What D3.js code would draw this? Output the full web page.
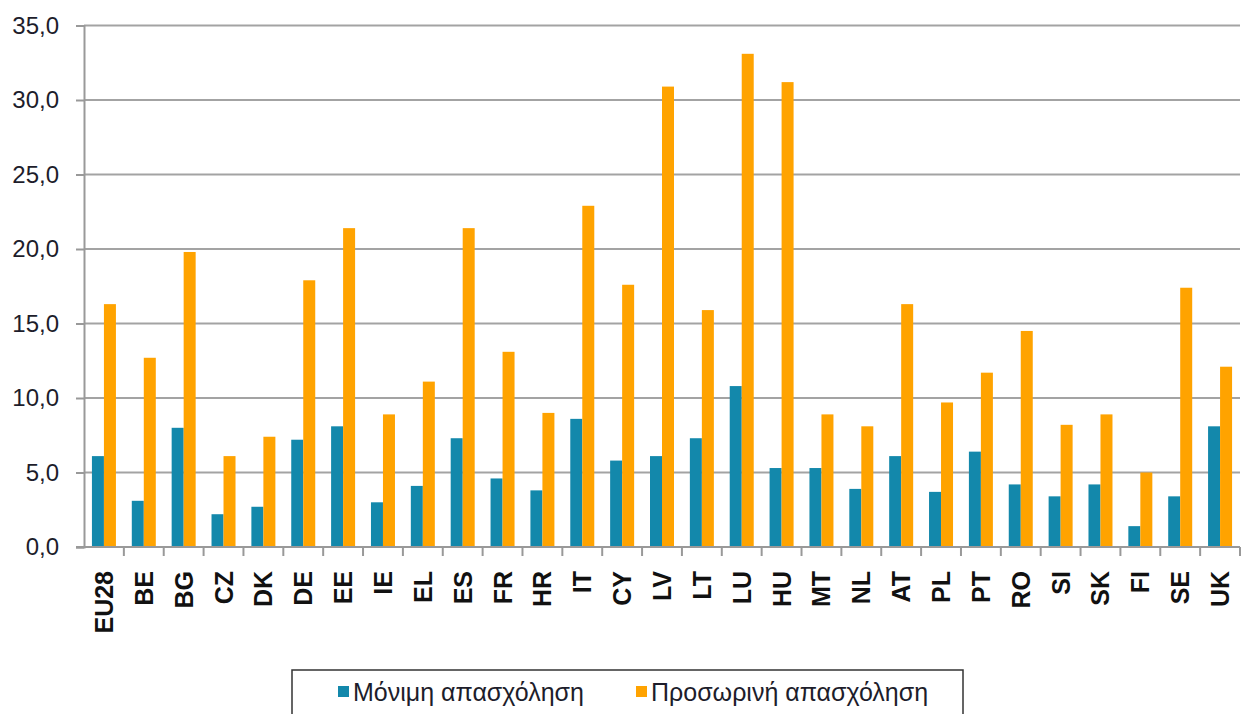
<!DOCTYPE html>
<html>
<head>
<meta charset="utf-8">
<script src="https://cdn.jsdelivr.net/npm/d3@7"></script>
<style>
  body { margin: 0; background: #fff; }
  svg { display: block; font-family: "Liberation Sans", Arial, sans-serif; }
</style>
</head>
<body>
<svg width="1244" height="714"></svg>
<script>
// Countries (x axis)
var countries = ['EU28','BE','BG','CZ','DK','DE','EE','IE','EL','ES','FR','HR','IT','CY','LV',
                 'LT','LU','HU','MT','NL','AT','PL','PT','RO','SI','SK','FI','SE','UK'];
// Series
var seriesNames = ['Μόνιμη απασχόληση', 'Προσωρινή απασχόληση'];
var permanent = [6.1, 3.1, 8.0, 2.2, 2.7, 7.2, 8.1, 3.0, 4.1, 7.3, 4.6, 3.8, 8.6, 5.8, 6.1,
                 7.3, 10.8, 5.3, 5.3, 3.9, 6.1, 3.7, 6.4, 4.2, 3.4, 4.2, 1.4, 3.4, 8.1];
var temporary = [16.3, 12.7, 19.8, 6.1, 7.4, 17.9, 21.4, 8.9, 11.1, 21.4, 13.1, 9.0, 22.9, 17.6, 30.9,
                 15.9, 33.1, 31.2, 8.9, 8.1, 16.3, 9.7, 11.7, 14.5, 8.2, 8.9, 5.0, 17.4, 12.1];
// Y ticks
var yTicks = [0, 5, 10, 15, 20, 25, 30, 35];
var colors = ['#1388AB', '#FFA300'];

var svg = d3.select('svg');
var plotL = 84, plotR = 1240, plotT = 25.5, plotB = 547;

var x = d3.scaleBand().domain(countries).range([plotL, plotR]).padding(0);
var y = d3.scaleLinear().domain([0, 35]).range([plotB, plotT]);
var bw = x.bandwidth();
var x1 = d3.scaleBand().domain([0, 1]).range([bw / 2 - 12, bw / 2 + 12]).padding(0);

var fmt = function(d) { return d3.format('.1f')(d).replace('.', ','); };

// gridlines
svg.append('g')
    .selectAll('line')
    .data(yTicks.filter(function(d) { return d > 0; }))
    .enter()
    .append('line')
    .attr('x1', plotL).attr('x2', plotR)
    .attr('y1', y).attr('y2', y)
    .style('stroke', '#a3a3a3')
    .style('stroke-width', 2);

// bars
var groups = svg.append('g')
    .selectAll('g')
    .data(countries)
    .enter()
    .append('g')
    .attr('transform', function(d) { return 'translate(' + x(d) + ',0)'; });

groups.selectAll('rect')
    .data(function(d, i) { return [permanent[i], temporary[i]]; })
    .enter()
    .append('rect')
    .attr('x', function(d, j) { return x1(j); })
    .attr('width', x1.bandwidth())
    .attr('y', function(d) { return y(d); })
    .attr('height', function(d) { return plotB - y(d); })
    .style('fill', function(d, j) { return colors[j]; });

// y axis
var yAxis = svg.append('g')
    .attr('transform', 'translate(' + plotL + ',0)')
    .call(d3.axisLeft(y).tickValues(yTicks).tickFormat(fmt).tickSize(8).tickPadding(17));
yAxis.select('.domain').style('stroke', '#999').style('stroke-width', 2);
yAxis.selectAll('.tick line').style('stroke', '#999').style('stroke-width', 2);
yAxis.selectAll('.tick text')
    .style('font-size', '24px')
    .style('fill', '#1d1d2b');

// x axis
var xAxis = svg.append('g')
    .attr('transform', 'translate(0,' + plotB + ')')
    .call(d3.axisBottom(x).tickSize(0).tickFormat(''));
xAxis.select('.domain').attr('d', 'M' + (plotL - 8) + ',0H' + plotR)
    .style('stroke', '#999').style('stroke-width', 2);

// x ticks at band boundaries
svg.append('g')
    .selectAll('line')
    .data(countries)
    .enter()
    .append('line')
    .attr('x1', function(d) { return x(d) + bw; })
    .attr('x2', function(d) { return x(d) + bw; })
    .attr('y1', plotB)
    .attr('y2', plotB + 9)
    .style('stroke', '#999')
    .style('stroke-width', 2);

// category labels
svg.append('g')
    .selectAll('text')
    .data(countries)
    .enter()
    .append('text')
    .attr('transform', function(d) {
        return 'translate(' + (x(d) + bw / 2 + 9) + ',571) rotate(-90)';
    })
    .attr('text-anchor', 'end')
    .style('font-size', '25px')
    .style('font-weight', 'bold')
    .style('fill', '#111')
    .text(function(d) { return d; });

// legend
var legend = svg.append('g');
legend.append('rect')
    .attr('x', 292).attr('y', 670)
    .attr('width', 671).attr('height', 70)
    .style('fill', '#fff')
    .style('stroke', '#333')
    .style('stroke-width', 1.5);

var legX = [338, 636];
var items = legend.selectAll('g.item')
    .data(seriesNames)
    .enter()
    .append('g')
    .attr('class', 'item')
    .attr('transform', function(d, i) { return 'translate(' + legX[i] + ',0)'; });
items.append('rect')
    .attr('x', 0).attr('y', 686)
    .attr('width', 11).attr('height', 11)
    .style('fill', function(d, i) { return colors[i]; });
items.append('text')
    .attr('x', 15).attr('y', 701)
    .style('font-size', '25px')
    .style('fill', '#1d1d2b')
    .text(function(d) { return d; });
</script>
</body>
</html>
